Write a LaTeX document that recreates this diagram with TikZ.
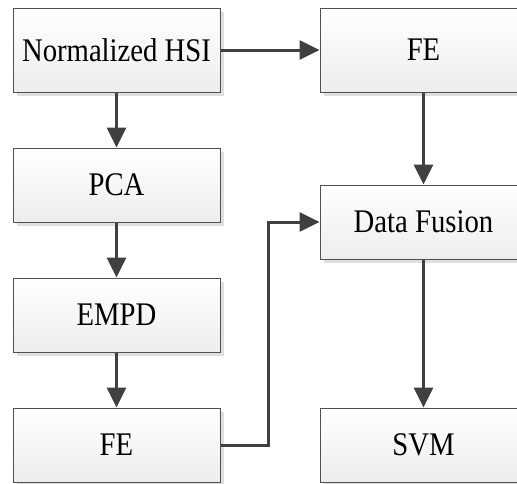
\documentclass[tikz,border=0pt]{standalone}
\usepackage{fontspec}
\setmainfont{Liberation Serif}[FakeStretch=0.87]
\usetikzlibrary{shadows,arrows.meta}
\definecolor{linegray}{HTML}{404040}
\definecolor{boxborder}{HTML}{505050}
\tikzset{
  stepbox/.style={rectangle, draw=boxborder, line width=1pt,
    top color=white, bottom color=gray!14,
    drop shadow={shadow xshift=4pt, shadow yshift=-4pt, fill=gray!25, opacity=1},
    minimum width=207pt, inner sep=0pt,
    font=\fontsize{33}{38}\selectfont},
  tallbox/.style={stepbox, minimum height=84pt},
  shortbox/.style={stepbox, minimum height=74pt},
  arr/.style={draw=linegray, line width=3pt,
    -{Triangle[length=20pt, width=19pt]}, color=linegray}
}
\begin{document}
\begin{tikzpicture}[x=1pt, y=-1pt]
\useasboundingbox (0,0) rectangle (517,483);
\node[tallbox] (nhsi) at (116.5,50) {Normalized HSI};
\node[tallbox] (fe2) at (423.5,50) {FE};
\node[shortbox] (pca) at (116.5,185) {PCA};
\node[shortbox] (empd) at (116.5,315) {EMPD};
\node[shortbox] (fe1) at (116.5,445) {FE};
\node[shortbox] (df) at (423.5,222) {Data Fusion};
\node[shortbox] (svm) at (423.5,445) {SVM};
\coordinate (bend) at (268,445);
\draw[arr] (nhsi) -- (fe2);
\draw[arr] (nhsi) -- (pca);
\draw[arr] (pca) -- (empd);
\draw[arr] (empd) -- (fe1);
\draw[arr] (fe2) -- (df);
\draw[arr] (df) -- (svm);
\draw[arr] (fe1.east) -- (bend) |- (df.west);
\end{tikzpicture}
\end{document}
